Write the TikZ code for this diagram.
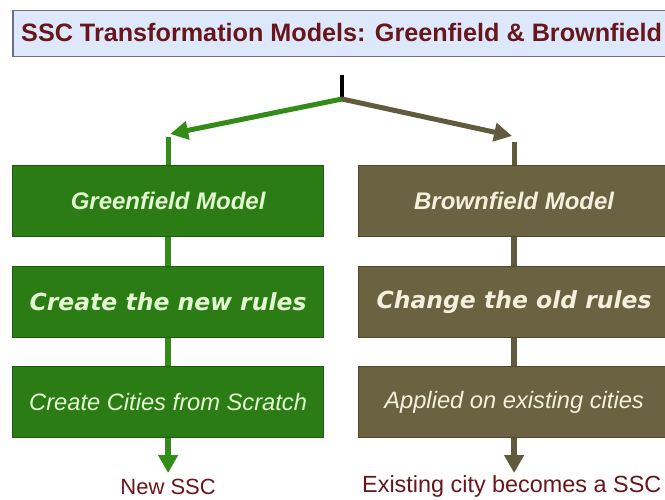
\documentclass[tikz,border=0pt]{standalone}
\usepackage{fontspec}
\setmainfont{Liberation Sans}
\newfontfamily\verdfont{DejaVu Sans}
\usetikzlibrary{arrows.meta}
\definecolor{gfill}{RGB}{44,124,22}
\definecolor{gedge}{RGB}{28,88,14}
\definecolor{bfill}{RGB}{106,98,64}
\definecolor{bedge}{RGB}{78,72,46}
\definecolor{gtext}{RGB}{226,248,208}
\definecolor{btext}{RGB}{245,240,222}
\definecolor{tfill}{RGB}{221,233,250}
\definecolor{tedge}{RGB}{110,112,125}
\definecolor{dred}{RGB}{104,22,28}
\definecolor{gline}{RGB}{52,140,24}
\definecolor{bline}{RGB}{96,90,62}
\tikzset{
  gbox/.style={draw=gedge, line width=1.2pt, fill=gfill, text=gtext, minimum width=311pt, minimum height=71pt, inner sep=0pt, anchor=north west},
  bbox/.style={draw=bedge, line width=1.2pt, fill=bfill, text=btext, minimum width=311pt, minimum height=71pt, inner sep=0pt, anchor=north west},
  arfont/.style={font=\fontsize{24}{28}\selectfont\bfseries\itshape},
  vefont/.style={font=\fontsize{23.5}{28}\selectfont\verdfont\bfseries\itshape},
  plfont/.style={font=\fontsize{23.7}{28}\selectfont\itshape},
  gconn/.style={draw=gline, line width=6pt},
  bconn/.style={draw=bline, line width=6pt},
  garrow/.style={draw=gline, line width=5pt, -{Triangle[length=18pt,width=18pt]}},
  barrow/.style={draw=bline, line width=5pt, -{Triangle[length=18pt,width=18pt]}},
  outtext/.style={text=dred, inner sep=0pt}
}
\begin{document}
\begin{tikzpicture}[x=1pt,y=-1pt]
\useasboundingbox (0,0) rectangle (665,500);
\clip (0,0) rectangle (665,500);
% title
\node[draw=tedge, line width=1.5pt, fill=tfill, minimum width=670pt, minimum height=46pt, anchor=north west, inner sep=0pt] (title) at (12,10) {};
\node[anchor=base west, text=dred, font=\fontsize{25.2}{30}\selectfont\bfseries, inner sep=0pt] (ttext) at (21,42) {SSC Transformation Models: Greenfield \& Brownfield};
% left column
\node[gbox, arfont] (g1) at (12,165) {Greenfield Model};
\node[gbox, vefont] (g2) at (12,266) {Create the new rules};
\node[gbox, plfont] (g3) at (12,366) {Create Cities from Scratch};
% right column
\node[bbox, arfont] (b1) at (358,165) {Brownfield Model};
\node[bbox, vefont] (b2) at (358,266) {Change the old rules};
\node[bbox, plfont] (b3) at (358,366) {Applied on existing cities};
% top split
\coordinate (stemtop) at (342,75);
\coordinate (junction) at (342,99);
\coordinate (gcorner) at (g1.north |- 0,134);
\coordinate (bcorner) at (b1.north |- 0,136);
\draw[line width=4pt, black] (stemtop) -- (junction);
\draw[garrow] (junction) -- ([xshift=2pt]gcorner);
\draw[barrow] (junction) -- ([xshift=-2pt]bcorner);
\draw[gconn, line width=5pt] ([yshift=-3pt]gcorner) -- (g1.north);
\draw[bconn, line width=5pt] ([yshift=-6pt]bcorner) -- (b1.north);
% vertical connectors
\draw[gconn] (g1.south) -- (g2.north);
\draw[gconn] (g2.south) -- (g3.north);
\draw[bconn] (b1.south) -- (b2.north);
\draw[bconn] (b2.south) -- (b3.north);
% bottom outputs
\node[outtext, anchor=base, font=\fontsize{22}{26}\selectfont] (newssc) at (g3.south |- 0,494) {New SSC};
\node[outtext, anchor=base west, font=\fontsize{23.4}{28}\selectfont] (exist) at (362,492) {Existing city becomes a SSC};
\coordinate (gtip) at (g3.south |- 0,473);
\coordinate (btip) at (b3.south |- 0,473);
\draw[garrow, line width=6pt, -{Triangle[length=18pt,width=19pt]}] (g3.south) -- (gtip);
\draw[barrow, line width=6pt, -{Triangle[length=18pt,width=19pt]}] (b3.south) -- (btip);
\end{tikzpicture}
\end{document}
